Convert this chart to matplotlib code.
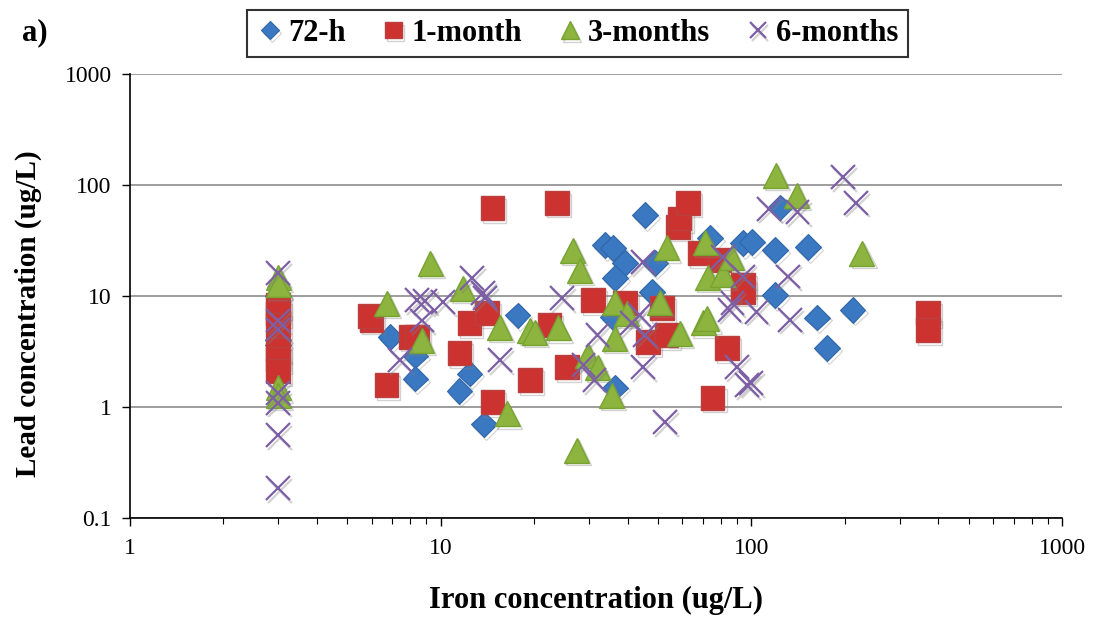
import matplotlib.pyplot as plt
import matplotlib.patheffects as pe
from matplotlib.ticker import LogLocator, NullFormatter, FixedLocator, FixedFormatter

# iron (x) and lead (y) concentrations, ug/L, per sampling time
fe_72h = [3.0, 3.0, 3.0, 6.9, 8.3, 8.3, 11.5, 12.4, 13.8, 17.7, 33.8, 35.9, 39.2, 36.4, 49,
          47.9, 35.9, 36.4, 45.5, 73.6, 94, 100.5, 119, 152, 124, 119, 163, 175, 212]
pb_72h = [10.0, 4.0, 3.6, 4.3, 2.9, 1.8, 1.4, 2.0, 0.70, 6.7, 28.8, 27.1, 19.8, 14.5, 19.8,
          10.9, 6.5, 1.5, 53.7, 33.3, 30.0, 30.6, 25.9, 27.6, 63, 10.2, 6.4, 3.4, 7.5]

fe_1m = [3.0, 3.0, 3.0, 3.0, 3.0, 3.0, 6.0, 5.9, 6.7, 8.0, 8.4, 11.5, 12.4, 14.1, 14.7, 14.7,
         19.4, 22.4, 23.7, 25.5, 30.9, 39.2, 46.5, 51.5, 53.4, 58, 58.8, 62.7, 68.2, 75.1, 79,
         83.5, 94, 94, 370, 370]
pb_1m = [8.3, 7.0, 5.5, 3.3, 2.7, 2.1, 6.1, 6.6, 1.58, 4.3, 4.3, 3.06, 5.7, 7.0, 1.11, 62,
         1.75, 5.5, 69, 2.29, 9.2, 8.65, 3.85, 7.8, 4.45, 42, 50, 69, 24.4, 1.21, 21,
         3.4, 12.6, 10.9, 7.0, 4.95]

fe_3m = [3.0, 3.0, 3.0, 3.0, 6.7, 8.7, 9.25, 11.8, 15.5, 16.4, 19.4, 20.1, 23.9, 26.6, 28.0,
         27.4, 29.8, 32, 35.5, 36.4, 36.4, 39.8, 50.8, 53.4, 58.8, 70, 72, 71, 72.5, 81, 86.5,
         120, 140, 227]
pb_3m = [14.8, 12.6, 1.5, 1.28, 8.65, 4.0, 19.8, 11.8, 5.26, 0.88, 4.94, 4.74, 5.17, 25.9, 17.1,
         0.41, 2.94, 2.29, 1.28, 8.83, 4.18, 7.03, 8.83, 27.1, 4.64, 5.8, 6.3, 30.6, 14.8, 15.5, 22.4,
         123, 81, 24.4]

fe_6m = [3.0, 3.0, 3.0, 3.0, 3.0, 3.0, 3.0, 7.4, 8.4, 8.9, 8.7, 10.2, 12.6, 13.7, 13.9, 15.5,
         24.6, 28.8, 31.3, 32, 41.3, 43.7, 44.8, 45.5, 44.8, 52.7, 81, 94, 87, 85, 104, 90, 97,
         100, 114, 141, 131, 133, 197, 217]
pb_6m = [16.1, 6.0, 5.0, 1.34, 1.09, 0.56, 0.186, 2.65, 9.2, 9.0, 6.0, 8.8, 14.5, 10.6, 9.6, 2.65,
         9.6, 2.39, 1.75, 4.46, 5.7, 6.74, 20.2, 4.46, 2.29, 0.73, 22.4, 15, 8.65, 7.5, 7.2, 2.29, 1.58,
         1.64, 61, 57, 15, 6.1, 118, 69]

plt.rcParams['font.family'] = ['Liberation Serif', 'DejaVu Serif']

fig = plt.figure(figsize=(11, 6.19), dpi=100)
ax = fig.add_axes([0.118, 0.163, 0.8475, 0.7175])

shadow = [pe.SimpleLineShadow(offset=(1.5, -2), shadow_color='gray', alpha=0.35), pe.Normal()]

ax.plot(fe_72h, pb_72h, ls='none', marker='D', ms=13, mfc='#3a78c2', mec='#2f66a8',
        mew=0.8, label='72-h', path_effects=shadow)
ax.plot(fe_1m, pb_1m, ls='none', marker='s', ms=17, mfc='#cc3330', mec='#b8403e',
        mew=1.0, label='1-month', path_effects=shadow)
ax.plot(fe_3m, pb_3m, ls='none', marker='^', ms=18, mfc='#8cb43e', mec='#77a332',
        mew=1.0, label='3-months', path_effects=shadow)
ax.plot(fe_6m, pb_6m, ls='none', marker='x', ms=17, mec='#7d5fa6', mew=1.6,
        label='6-months', path_effects=shadow)

ax.set_xscale('log')
ax.set_yscale('log')
ax.set_xlim(1, 1000)
ax.set_ylim(0.1, 1000)

ax.xaxis.set_major_locator(FixedLocator([1, 10, 100, 1000]))
ax.xaxis.set_major_formatter(FixedFormatter(['1', '10', '100', '1000']))
ax.xaxis.set_minor_locator(LogLocator(base=10, subs=range(2, 10)))
ax.xaxis.set_minor_formatter(NullFormatter())
ax.yaxis.set_major_locator(FixedLocator([0.1, 1, 10, 100, 1000]))
ax.yaxis.set_major_formatter(FixedFormatter(['0.1', '1', '10', '100', '1000']))
ax.yaxis.set_minor_locator(FixedLocator([]))

ax.tick_params(axis='both', which='major', labelsize=17, length=6, width=1, direction='out')
ax.tick_params(axis='x', which='minor', length=4, width=0.8, direction='out')
ax.tick_params(axis='x', pad=8)
ax.tick_params(axis='y', pad=7)

ax.yaxis.grid(True, which='major', color='#8c8c8c', lw=1.2)
ax.set_axisbelow(True)
for side in ('top', 'right'):
    ax.spines[side].set_visible(False)
for side in ('left', 'bottom'):
    ax.spines[side].set_linewidth(1.2)

ax.set_xlabel('Iron concentration (ug/L)', fontsize=22, fontweight='bold')
ax.xaxis.set_label_coords(0.5, -0.152)
ax.set_ylabel('Lead concentration (ug/L)', fontsize=21, fontweight='bold')
ax.yaxis.set_label_coords(-0.094, 0.46)

fig.text(0.02, 0.935, 'a)', fontsize=22, fontweight='bold')

leg = fig.legend(loc='center', bbox_to_anchor=(0.525, 0.946), ncol=4, frameon=True,
                 fancybox=False, edgecolor='black', handletextpad=0.15, columnspacing=1.1,
                 handlelength=0.9, markerscale=0.7, borderpad=0.3,
                 prop={'size': 22, 'weight': 'bold'})
leg.get_frame().set_linewidth(1.5)

fig.savefig('out.png', dpi=100)
